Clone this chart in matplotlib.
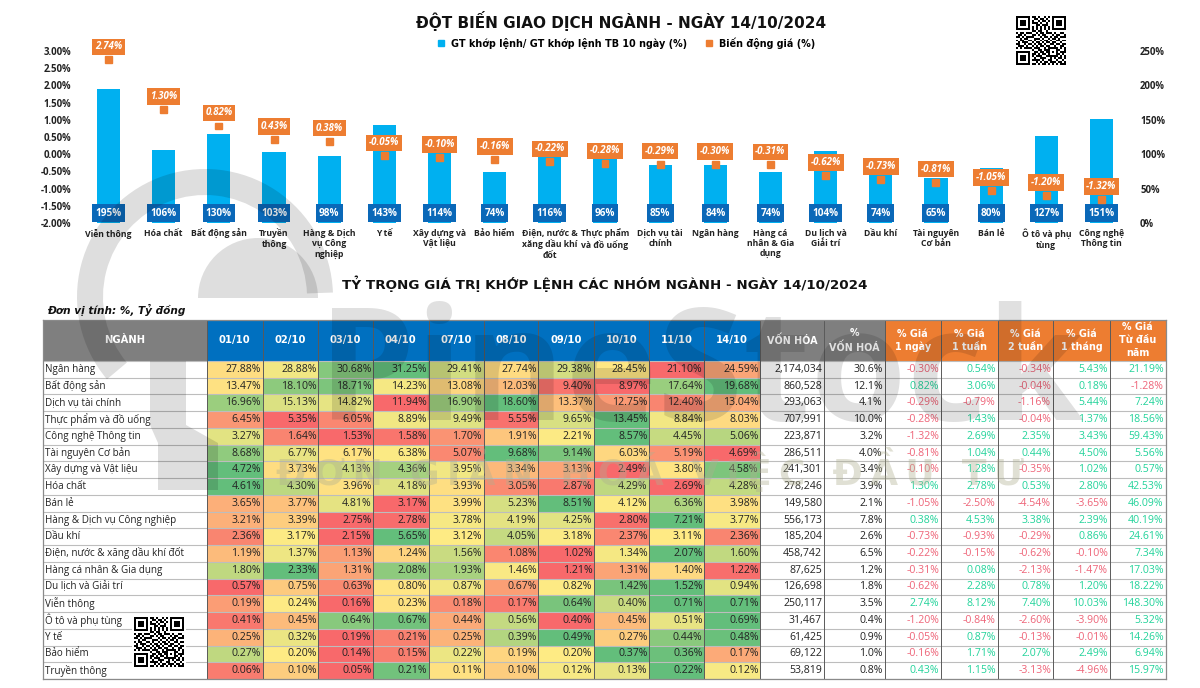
import numpy as np
import matplotlib
matplotlib.use("Agg")
import matplotlib.pyplot as plt
from matplotlib.colors import LinearSegmentedColormap
from matplotlib.lines import Line2D
from matplotlib.patches import Wedge, Rectangle, Polygon
import matplotlib.patheffects as pe

# ---------- chart data ----------
categories = ["Viễn thông", "Hóa chất", "Bất động sản", "Truyền\nthông", "Hàng & Dịch\nvụ Công\nnghiệp", "Y tế",
              "Xây dựng và\nVật liệu", "Bảo hiểm", "Điện, nước &\nxăng dầu khí\nđốt", "Thực phẩm\nvà đồ uống",
              "Dịch vụ tài\nchính", "Ngân hàng", "Hàng cá\nnhân & Gia\ndụng", "Du lịch và\nGiải trí", "Dầu khí",
              "Tài nguyên\nCơ bản", "Bán lẻ", "Ô tô và phụ\ntùng", "Công nghệ\nThông tin"]
volume_ratio = [195, 106, 130, 103, 98, 143, 114, 74, 116, 96, 85, 84, 74, 104, 74, 65, 80, 127, 151]
price_change = [2.74, 1.30, 0.82, 0.43, 0.38, -0.05, -0.10, -0.16, -0.22, -0.28, -0.29, -0.30, -0.31, -0.62,
                -0.73, -0.81, -1.05, -1.20, -1.32]

# ---------- table data ----------
sectors = ["Ngân hàng", "Bất động sản", "Dịch vụ tài chính", "Thực phẩm và đồ uống", "Công nghệ Thông tin",
           "Tài nguyên Cơ bản", "Xây dựng và Vật liệu", "Hóa chất", "Bán lẻ", "Hàng & Dịch vụ Công nghiệp", "Dầu khí",
           "Điện, nước & xăng dầu khí đốt", "Hàng cá nhân & Gia dụng", "Du lịch và Giải trí", "Viễn thông",
           "Ô tô và phụ tùng", "Y tế", "Bảo hiểm", "Truyền thông"]
dates = ["01/10", "02/10", "03/10", "04/10", "07/10", "08/10", "09/10", "10/10", "11/10", "14/10"]
share = [
    [27.88, 28.88, 30.68, 31.25, 29.41, 27.74, 29.38, 28.45, 21.10, 24.59],
    [13.47, 18.10, 18.71, 14.23, 13.08, 12.03, 9.40, 8.97, 17.64, 19.68],
    [16.96, 15.13, 14.82, 11.94, 16.90, 18.60, 13.37, 12.75, 12.40, 13.04],
    [6.45, 5.35, 6.05, 8.89, 9.49, 5.55, 9.65, 13.45, 8.84, 8.03],
    [3.27, 1.64, 1.53, 1.58, 1.70, 1.91, 2.21, 8.57, 4.45, 5.06],
    [8.68, 6.77, 6.17, 6.38, 5.07, 9.68, 9.14, 6.03, 5.19, 4.69],
    [4.72, 3.73, 4.13, 4.36, 3.95, 3.34, 3.13, 2.49, 3.80, 4.58],
    [4.61, 4.30, 3.96, 4.18, 3.93, 3.05, 2.87, 4.29, 2.69, 4.28],
    [3.65, 3.77, 4.81, 3.17, 3.99, 5.23, 8.51, 4.12, 6.36, 3.98],
    [3.21, 3.39, 2.75, 2.78, 3.78, 4.19, 4.25, 2.80, 7.21, 3.77],
    [2.36, 3.17, 2.15, 5.65, 3.12, 4.05, 3.18, 2.37, 3.11, 2.36],
    [1.19, 1.37, 1.13, 1.24, 1.56, 1.08, 1.02, 1.34, 2.07, 1.60],
    [1.80, 2.33, 1.31, 2.08, 1.93, 1.46, 1.21, 1.31, 1.40, 1.22],
    [0.57, 0.75, 0.63, 0.80, 0.87, 0.67, 0.82, 1.42, 1.52, 0.94],
    [0.19, 0.24, 0.16, 0.23, 0.18, 0.17, 0.64, 0.40, 0.71, 0.71],
    [0.41, 0.45, 0.64, 0.67, 0.44, 0.56, 0.40, 0.45, 0.51, 0.69],
    [0.25, 0.32, 0.19, 0.21, 0.25, 0.39, 0.49, 0.27, 0.44, 0.48],
    [0.27, 0.20, 0.14, 0.15, 0.22, 0.19, 0.20, 0.37, 0.36, 0.17],
    [0.06, 0.10, 0.05, 0.21, 0.11, 0.10, 0.12, 0.13, 0.22, 0.12],
]
market_cap = [2174034, 860528, 293063, 707991, 223871, 286511, 241301, 278246, 149580, 556173, 185204, 458742,
              87625, 126698, 250117, 31467, 61425, 69122, 53819]
cap_share = [30.6, 12.1, 4.1, 10.0, 3.2, 4.0, 3.4, 3.9, 2.1, 7.8, 2.6, 6.5, 1.2, 1.8, 3.5, 0.4, 0.9, 1.0, 0.8]
price_1d = [-0.30, 0.82, -0.29, -0.28, -1.32, -0.81, -0.10, 1.30, -1.05, 0.38, -0.73, -0.22, -0.31, -0.62, 2.74,
            -1.20, -0.05, -0.16, 0.43]
price_1w = [0.54, 3.06, -0.79, 1.43, 2.69, 1.04, 1.28, 2.78, -2.50, 4.53, -0.93, -0.15, 0.08, 2.28, 8.12, -0.84,
            0.87, 1.71, 1.15]
price_2w = [-0.34, -0.04, -1.16, -0.04, 2.35, 0.44, -0.35, 0.53, -4.54, 3.38, -0.29, -0.62, -2.13, 0.78, 7.40,
            -2.60, -0.13, 2.07, -3.13]
price_1m = [5.43, 0.18, 5.44, 1.37, 3.43, 4.50, 1.02, 2.80, -3.65, 2.39, 0.86, -0.10, -1.47, 1.20, 10.03, -3.90,
            -0.01, 2.49, -4.96]
price_ytd = [21.19, -1.28, 7.24, 18.56, 59.43, 5.56, 0.57, 42.53, 46.09, 40.19, 24.61, 7.34, 17.03, 18.22, 148.30,
             5.32, 14.26, 6.94, 15.97]

qr_rows = [
    "1111111011010010101111111", "1000001001101101001000001", "1011101010010110101011101",
    "1011101011101001001011101", "1011101000110111001011101", "1000001010101010101000001",
    "1111111010101010101111111", "0000000011011001000000000", "1011011100101101110100110",
    "0110100011010110001011001", "1101011110001011010110111", "0010110001110100101101000",
    "1011001101001011010011011", "0101110010110101101100100", "1100101101011010011011011",
    "0111010010101101100100110", "1010111101110010111110101", "0000000010011011100011001",
    "1111111001101101101010111", "1000001011010110100011010", "1011101010111001111110101",
    "1011101001001110010101101", "1011101011110100110010010", "1000001000101011011101101",
    "1111111011010110101010111",
]

W, H = 1200, 688
PX = 0.72
BLUE, ORANGE, DBLUE = "#00B0F0", "#ED7D31", "#0A68B8"
UI = ["Open Sans", "DejaVu Sans"]
fig = plt.figure(figsize=(12, 6.88), dpi=100, facecolor="white")


def box(l, t, r, b, **kw):
    return fig.add_axes([l / W, 1 - b / H, (r - l) / W, (b - t) / H], **kw)


# ---------- top chart ----------
ax2 = box(81, 51, 1129, 223)
ax = ax2.twinx()
ax2.yaxis.tick_right()
ax.yaxis.tick_left()
x = np.arange(len(categories))
ax2.bar(x, volume_ratio, width=0.42, color=BLUE, zorder=2)
ax2.set_ylim(0, 250)
ax2.set_yticks([0, 50, 100, 150, 200, 250], [f"{v}%" for v in [0, 50, 100, 150, 200, 250]])
ax.set_ylim(-2, 3)
ax.set_yticks(np.arange(-2, 3.01, 0.5), [f"{v:.2f}%" for v in np.arange(-2, 3.01, 0.5)])
ax2.set_xlim(-0.5, len(categories) - 0.5)
ax2.set_xticks(x, categories)
for a in (ax, ax2):
    for s in a.spines.values():
        s.set_visible(False)
    a.patch.set_visible(False)
ax2.tick_params(axis="x", length=0, pad=4)
ax2.tick_params(axis="y", length=0, pad=8, labelright=True, labelleft=False)
ax.tick_params(axis="y", length=0, pad=7, labelleft=True, labelright=False)
for lab in ax2.get_xticklabels():
    lab.set(fontsize=6.2, fontweight="bold", family=UI, color="#222222", linespacing=1.2)
for lab in ax2.get_yticklabels() + ax.get_yticklabels():
    lab.set(fontsize=6.9, fontweight="bold", family=UI, color="#222222")
ax.set_zorder(ax2.get_zorder() + 1)
ax.plot(x, price_change, ls="none", marker="s", ms=5, color=ORANGE, zorder=3,
        path_effects=[pe.SimplePatchShadow(offset=(0.6, -0.6), shadow_rgbFace="#777777", alpha=0.5), pe.Normal()])
for xi, v in zip(x, price_change):
    ax.annotate(f"{v:.2f}%", (xi, v), xytext=(0, 13 * PX), textcoords="offset points", ha="center", va="center",
                fontsize=7.0, style="italic", fontweight="bold", family=UI, color="white", zorder=5,
                bbox=dict(boxstyle="square,pad=0.28", fc=ORANGE, ec="none"))
for xi, v in zip(x, volume_ratio):
    ax2.annotate(f"{v}%", (xi, 0), xytext=(0, 10 * PX), textcoords="offset points", ha="center", va="center",
                 fontsize=7.2, fontweight="bold", family=UI, color="white", zorder=5,
                 bbox=dict(boxstyle="square,pad=0.33", fc=DBLUE, ec="none"))

handles = [Line2D([], [], ls="none", marker="s", ms=5, color=BLUE),
           Line2D([], [], ls="none", marker="s", ms=5, color=ORANGE)]
fig.legend(handles, ["GT khớp lệnh/ GT khớp lệnh TB 10 ngày (%)", "Biến động giá (%)"], ncol=2, frameon=False,
           loc="center", bbox_to_anchor=(623 / W, 1 - 43 / H), handletextpad=0.0, columnspacing=1.3,
           prop=dict(size=6.95, weight="bold", family="DejaVu Sans"))

fig.text(621 / W, 1 - 21 / H, "ĐỘT BIẾN GIAO DỊCH NGÀNH - NGÀY 14/10/2024", ha="center", va="center", fontsize=11,
         fontweight="bold", family="DejaVu Sans", color="#111111")
fig.text(605 / W, 1 - 284 / H, "TỶ TRỌNG GIÁ TRỊ KHỚP LỆNH CÁC NHÓM NGÀNH - NGÀY 14/10/2024", ha="center", va="center",
         fontsize=9.7, fontweight="bold", family="DejaVu Sans", color="#111111")
fig.text(47 / W, 1 - 309.5 / H, "Đơn vị tính: %, Tỷ đồng", ha="left", va="center", fontsize=7.6, fontweight="bold",
         style="italic", family="DejaVu Sans", color="#111111")

# ---------- table ----------
edges = [43, 207, 262.5, 318, 373, 428.5, 483.5, 538, 593.7, 649, 704, 760, 824, 884.7, 941, 997.7, 1053, 1110, 1165.7]
HEAD_T, HEAD_B, TAB_B = 319.5, 361, 679
n = len(sectors)
row_h = (TAB_B - HEAD_B) / n
tb = box(43, HEAD_T, 1165.7, TAB_B)
tb.set_xlim(43, 1165.7)
tb.set_ylim(TAB_B, HEAD_T)
tb.set_xticks([])
tb.set_yticks([])
for s in tb.spines.values():
    s.set_color("#8A8A8A")
    s.set_linewidth(0.9)

cmap = LinearSegmentedColormap.from_list("ryg", ["#F8696B", "#FFEB84", "#63BE7B"])
arr = np.array(share)
norm = np.zeros_like(arr)
for i, row in enumerate(arr):
    norm[i] = np.interp(row, [row.min(), np.median(row), row.max()], [0, 0.5, 1])
y_edges = HEAD_B + row_h * np.arange(n + 1)
tb.pcolormesh(edges[1:12], y_edges, norm, cmap=cmap, vmin=0, vmax=1, zorder=1)


def header(c0, c1, text, color, fs=7.2, family="DejaVu Sans"):
    tb.add_patch(Rectangle((edges[c0], HEAD_T), edges[c1] - edges[c0], HEAD_B - HEAD_T, fc=color, ec="none", zorder=1))
    tb.text((edges[c0] + edges[c1]) / 2, (HEAD_T + HEAD_B) / 2, text, ha="center", va="center", color="white",
            fontsize=fs, fontweight="bold", family=family, linespacing=1.35, zorder=4)


header(0, 1, "NGÀNH", "#7F7F7F")
for j, d in enumerate(dates):
    header(j + 1, j + 2, d, "#0070C0")
header(11, 12, "VỐN HÓA", "#7F7F7F", 6.9)
header(12, 13, "%\nVỐN HOÁ", "#7F7F7F", 6.9)
for j, t in enumerate(["% Giá\n1 ngày", "% Giá\n1 tuần", "% Giá\n2 tuần", "% Giá\n1 tháng", "% Giá\nTừ đầu\nnăm"]):
    header(13 + j, 14 + j, t, ORANGE, 6.9)

for yy in y_edges:
    tb.plot([edges[0], edges[-1]], [yy, yy], color="#BDBDBD", lw=0.8, zorder=2)
for e in edges[1:-1]:
    tb.plot([e, e], [HEAD_T, TAB_B], color="#5A5A5A", lw=0.7, zorder=2)

TFS = 7.6
price_cols = [price_1d, price_1w, price_2w, price_1m, price_ytd]
for i in range(n):
    yc = HEAD_B + row_h * (i + 0.5)
    tb.text(edges[0] + 2, yc, sectors[i], ha="left", va="center", fontsize=7.15, family=UI, color="#222222", zorder=4)
    for j in range(len(dates)):
        tb.text(edges[j + 2] - 1.5, yc, f"{share[i][j]:.2f}%", ha="right", va="center", fontsize=TFS, family=UI,
                color="#222222", zorder=4)
    tb.text(edges[12] - 2, yc, f"{market_cap[i]:,}", ha="right", va="center", fontsize=TFS, family=UI, color="#222222",
            zorder=4)
    tb.text(edges[13] - 2, yc, f"{cap_share[i]:.1f}%", ha="right", va="center", fontsize=TFS, family=UI,
            color="#222222", zorder=4)
    for j, col in enumerate(price_cols):
        v = col[i]
        tb.text(edges[14 + j] - 2, yc, f"{v:.2f}%", ha="right", va="center", fontsize=TFS, family=UI,
                color="#22D39A" if v >= 0 else "#EE6478", zorder=4)

# ---------- watermark and QR codes ----------
ov = fig.add_axes([0, 0, 1, 1], zorder=50)
ov.set_xlim(0, W)
ov.set_ylim(H, 0)
ov.axis("off")
ov.patch.set_visible(False)
WM = dict(color="#000000", alpha=0.13, zorder=1, lw=0)
ov.add_patch(Wedge((205, 297), 128, 140, 358, width=26, **WM))
ov.add_patch(Wedge((258, 298), 60, 180, 360, **WM))
ov.add_patch(Polygon([(150, 361), (186, 361), (186, 425), (218, 443), (218, 490), (158, 490), (158, 443), (150, 425)],
                     **WM))
ov.text(318, 420, "PineStock", fontsize=112, fontweight="bold", family="Open Sans", color="#000000", alpha=0.12,
        ha="left", va="baseline", zorder=1)
thin = "\u2009"
slogan = "ĐƠN GIẢN HOÁ VIỆC ĐẦU TƯ"
ov.text(276, 469, thin.join(slogan), fontsize=26, fontweight="bold", family="DejaVu Sans", color="#AFAF90",
        alpha=0.38, ha="left", va="center", zorder=1)

qr = np.array([[1 - int(c) for c in r] for r in qr_rows])
for l, t, r, b in [(1016, 16, 1066, 65), (134, 617, 184, 667)]:
    ov.add_patch(Rectangle((l - 2, t - 2), r - l + 4, b - t + 4, fc="white", ec="none", zorder=5))
    ov.imshow(qr, cmap="gray", vmin=0, vmax=1, extent=(l, r, b, t), aspect="auto", zorder=6, interpolation="nearest")
ov.set_xlim(0, W)
ov.set_ylim(H, 0)

fig.savefig("out.png", dpi=100, facecolor="white")
